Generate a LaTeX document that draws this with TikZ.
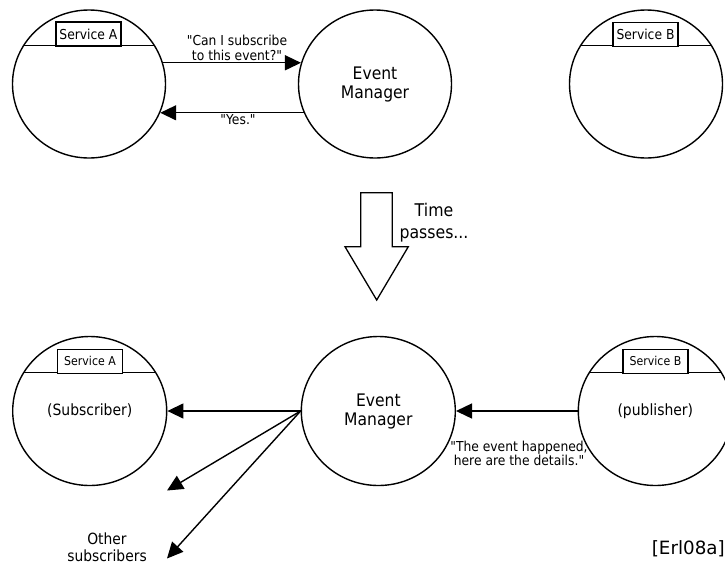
\documentclass[tikz,border=0pt]{standalone}
\usepackage{fontspec}
\setmainfont{DejaVu Sans}[FakeStretch=0.9,Ligatures=TeXOff]
\newfontfamily\citefont{DejaVu Sans}
\usetikzlibrary{arrows.meta,shapes.geometric}
\begin{document}
\begin{tikzpicture}[x=1pt,y=-1pt,
  svc/.style={ellipse,draw,line width=1.4pt,fill=white,minimum width=153pt,minimum height=148pt,inner sep=0pt,align=center},
  svcb/.style={svc,minimum width=154pt,minimum height=149pt},
  tag/.style={draw,line width=1.2pt,fill=white,minimum width=65pt,minimum height=24pt,inner sep=0pt},
  chord/.style={line width=1.4pt},
  msg/.style={-{Triangle[length=16pt,width=15pt]},line width=1.4pt},
  lbl/.style={align=center,inner sep=0pt,font=\fontsize{13.7}{14.6}\selectfont},
  big/.style={font=\fontsize{17.3}{19}\selectfont},
  note/.style={align=center,inner sep=0pt,font=\fontsize{15.4}{17}\selectfont}]
\useasboundingbox (0,0) rectangle (725,563);
\clip (0,0) rectangle (725,563);

% ---- subscription request ----
\node[svc] (sa) at (89,84) {};
\node[svc,big] (em) at (375,84) {Event\\Manager};
\node[svc] (sb) at (646,84) {};
\draw[chord] (sa.150) -- (sa.30);
\draw[chord] (sb.150) -- (sb.30);
\node[tag,lbl] (saTag) at (88.4,34) {Service A};
\node[tag,lbl] (sbTag) at (645.5,34.2) {Service B};

\draw[msg] (sa.16) -- (em.164);
\draw[msg] (em.-158) -- (sa.-22);
\node[lbl] (ask) at (237,48) {"Can I subscribe\\to this event?"};
\node[lbl] (yes) at (238,120) {"Yes."};

% ---- time arrow ----
\draw[line width=1.3pt,line join=miter]
  (360.7,192.7) -- (392.3,192.7) -- (392.3,246.7) -- (408.3,246.7)
  -- (376.7,300) -- (345,246.7) -- (360.7,246.7) -- cycle;
\node[align=center,inner sep=0pt,font=\fontsize{17.5}{21.6}\selectfont] (time) at (434,222.5) {Time\\passes...};

% ---- event delivery ----
\node[lbl,font=\fontsize{13.7}{14.7}\selectfont] (detail) at (519,453.5) {"The event happened,\\here are the details."};
\node[svcb,font=\fontsize{15.5}{17}\selectfont] (sa2) at (89.7,411) {(Subscriber)};
\node[svcb,big] (em2) at (378.3,411) {Event\\Manager};
\node[svcb,font=\fontsize{15.5}{17}\selectfont] (sb2) at (655.3,411) {(publisher)};
\draw[chord] (sa2.150) -- (sa2.30);
\draw[chord] (sb2.150) -- (sb2.30);
\node[tag,lbl,font=\fontsize{12.2}{13}\selectfont] (saTag2) at (90,361.3) {Service A};
\node[tag,lbl,font=\fontsize{12.2}{13}\selectfont] (sbTag2) at (655.5,361.3) {Service B};

\coordinate (o1) at (167,490.5);
\coordinate (o2) at (167,558.5);
\draw[msg] (em2.west) -- (sa2.east);
\draw[msg] (em2.west) -- (o1);
\draw[msg] (em2.west) -- (o2);
\draw[msg] (sb2.west) -- (em2.east);
\node[note] (others) at (107,547.3) {Other\\subscribers};

\node[anchor=east,inner sep=0pt] (cite) at (725,548.3) {\citefont\fontsize{18.3}{20}\selectfont [Erl08a]};
\end{tikzpicture}
\end{document}
